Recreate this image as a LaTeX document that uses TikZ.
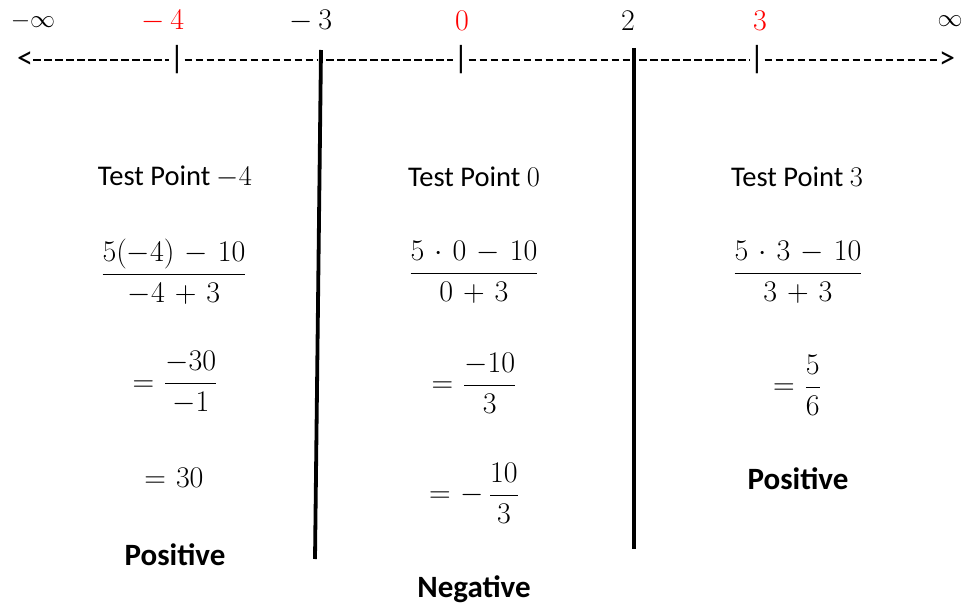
\RequirePackage{fix-cm}
\documentclass[tikz,border=0pt]{standalone}
\usepackage{amsmath}
\usepackage{fontspec}
\setmainfont{Carlito}
\definecolor{nred}{RGB}{255,0,0}
\medmuskip=6mu plus 2mu minus 2mu
\thickmuskip=6mu plus 3mu minus 1mu
\begin{document}
\begin{tikzpicture}[x=1pt,y=-1pt,
  lbl/.style={inner sep=0pt,anchor=center,font=\fontsize{30}{34}\selectfont},
  inf/.style={inner sep=0pt,anchor=center,font=\fontsize{25}{30}\selectfont},
  txt/.style={inner sep=0pt,anchor=center,font=\fontsize{28.5}{32}\selectfont},
  bold/.style={inner sep=0pt,anchor=center,font=\fontsize{31}{35}\selectfont\bfseries},
  mth/.style={inner sep=0pt,anchor=center,font=\fontsize{30}{34}\selectfont},
  tick/.style={inner sep=0pt,anchor=center,font=\fontsize{32}{36}\selectfont},
  dsh/.style={line width=1.6pt,dash pattern=on 7.5pt off 3.5pt},
  wall/.style={line width=3.8pt}]
\useasboundingbox (0,0) rectangle (967,607);
% top labels
\node[inf] (lminf) at (33,21) {$-\infty$};
\node[lbl,text=nred] (lm4) at (163,21) {$-\,4$};
\node[lbl] (lm3) at (311,21) {$-\,3$};
\node[lbl,text=nred] (l0) at (462,21) {$0$};
\node[lbl] (l2) at (628,21) {$2$};
\node[lbl,text=nred] (l3) at (760,21) {$3$};
\node[inf] (linf) at (950,21) {$\infty$};
% number line
\node[tick] (la) at (25,60) {<};
\node[tick] (t1) at (177,60) {|};
\coordinate (t2) at (321,60);
\node[tick] (t3) at (461,60) {|};
\coordinate (t4) at (634,60);
\node[tick] (t5) at (757,60) {|};
\node[tick] (ra) at (947,60) {>};
\draw[dsh] (la.east) -- (t1.west);
\draw[dsh] (t1.east) -- ([xshift=-4pt]t2);
\draw[dsh] ([xshift=5pt]t2) -- (t3.west);
\draw[dsh] (t3.east) -- ([xshift=-4pt]t4);
\draw[dsh] ([xshift=5pt]t4) -- (t5.west);
\draw[dsh] (t5.east) -- (ra.west);
% walls
\coordinate (w1a) at (321,50);
\coordinate (w1b) at (315,559);
\coordinate (w2a) at (634,48);
\coordinate (w2b) at (634,549);
\draw[wall] (w1a) -- (w1b);
\draw[wall] (w2a) -- (w2b);
% left column
\node[txt] (a1) at (175,177) {Test Point $-4$};
\node[mth] (a2) at (174,272) {$\dfrac{5(-4)-10}{-4+3}$};
\node[mth] (a3) at (175,383) {$=\dfrac{-30}{-1}$};
\node[mth] (a4) at (174,478) {$=30$};
\node[bold] (a5) at (175,555) {Positive};
% middle column
\node[txt] (b1) at (474,177) {Test Point $0$};
\node[mth] (b2) at (474,272) {$\dfrac{5\cdot 0-10}{0+3}$};
\node[mth] (b3) at (474,383) {$=\dfrac{-10}{3}$};
\node[mth] (b4) at (474,493) {$=-\,\dfrac{10}{3}$};
\node[bold] (b5) at (474,589) {Negative};
% right column
\node[txt] (c1) at (797,177) {Test Point $3$};
\node[mth] (c2) at (798,272) {$\dfrac{5\cdot 3-10}{3+3}$};
\node[mth] (c3) at (797,385) {$=\dfrac{5}{6}$};
\node[bold] (c4) at (798,479) {Positive};
\end{tikzpicture}
\end{document}
